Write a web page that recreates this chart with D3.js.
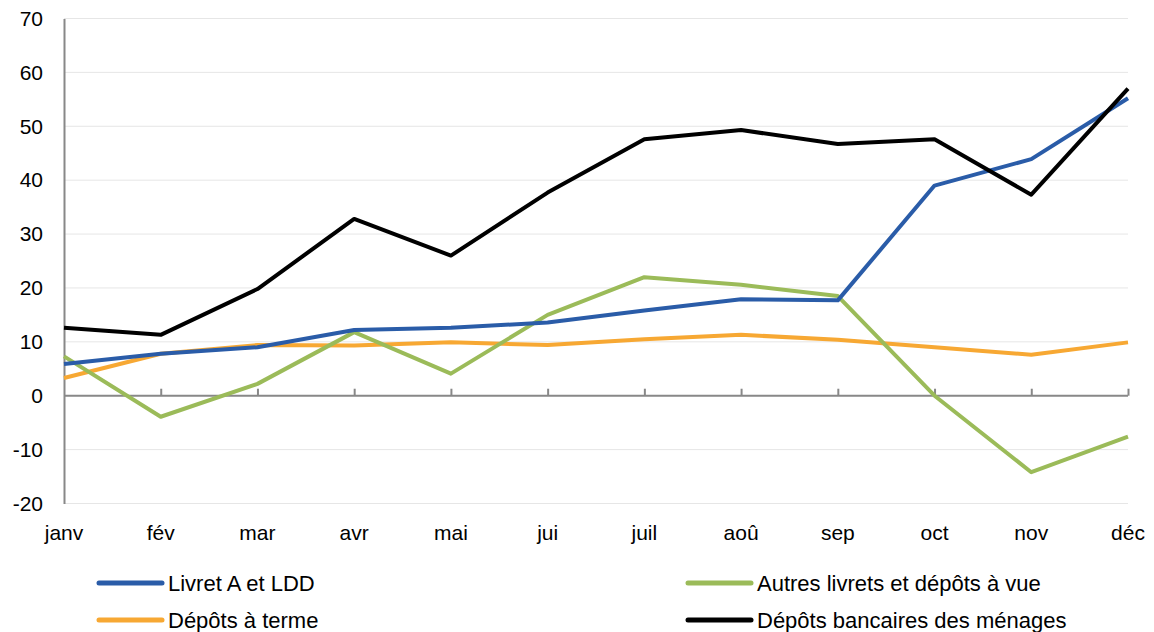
<!DOCTYPE html>
<html><head><meta charset="utf-8">
<script src="https://cdn.jsdelivr.net/npm/d3@7"></script>
<style>body{margin:0;background:#fff}svg{display:block;font-family:"Liberation Sans",Arial,sans-serif}</style>
</head><body><svg id="c" width="1154" height="632"></svg>
<script>
const months = ["janv","fév","mar","avr","mai","jui","juil","aoû","sep","oct","nov","déc"];
const livretA = [5.9,7.8,9.0,12.2,12.6,13.6,15.8,17.9,17.7,39.0,43.9,55.2];
const autresLivrets = [7.3,-3.9,2.2,11.8,4.1,15.0,22.0,20.6,18.5,0,-14.2,-7.6];
const depotsTerme = [3.3,7.8,9.4,9.3,9.9,9.4,10.5,11.3,10.4,9.0,7.6,9.9];
const depotsMenages = [12.6,11.3,19.8,32.8,26.0,37.7,47.6,49.3,46.7,47.6,37.3,57.0];
const yTicks = [-20,-10,0,10,20,30,40,50,60,70];
const seriesNames = ["Livret A et LDD","Autres livrets et dépôts à vue","Dépôts à terme","Dépôts bancaires des ménages"];
const colors = ["#2a5ca8","#9bbb59","#f7a833","#000000"];

const svg = d3.select("#c");
const x = d3.scalePoint().domain(months).range([64,1128]);
const y = d3.scaleLinear().domain([-20,70]).range([503.5,18.5]);

// gridlines
svg.append("g").selectAll("line").data(yTicks).join("line")
  .attr("x1",64).attr("x2",1128).attr("y1",d=>y(d)).attr("y2",d=>y(d))
  .attr("stroke","#e6e6e6").attr("stroke-width",1);

// y axis
const yAxis = d3.axisLeft(y).tickValues(yTicks).tickSize(0).tickPadding(21).tickFormat(d=>String(d));
const gy = svg.append("g").attr("transform","translate(64,0)").call(yAxis);
gy.select(".domain").attr("stroke","#888").attr("stroke-width",2);
gy.selectAll("text").attr("font-size",21).attr("fill","#000").attr("font-family","Liberation Sans, Arial, sans-serif");

// x axis at 0
const xAxis = d3.axisBottom(x).tickSize(-7).tickPadding(0).tickFormat("");
const gx = svg.append("g").attr("transform",`translate(0,${y(0)})`).call(xAxis);
gx.select(".domain").attr("stroke","#888").attr("stroke-width",2).attr("d",`M64,0H1128`);
gx.selectAll(".tick line").attr("stroke","#888").attr("stroke-width",2);
gx.selectAll(".tick").filter(d=>d==="janv").remove();

// x labels at bottom
svg.append("g").selectAll("text").data(months).join("text")
  .attr("x",d=>x(d)).attr("y",540).attr("text-anchor","middle")
  .attr("font-size",21).attr("fill","#000").text(d=>d);

// lines
const data = [livretA, autresLivrets, depotsTerme, depotsMenages];
const line = d3.line().x((d,i)=>x(months[i])).y(d=>y(d));
const drawOrder = [2,1,0,3];
drawOrder.forEach(k=>{
  svg.append("path").datum(data[k]).attr("d",line)
    .attr("fill","none").attr("stroke",colors[k]).attr("stroke-width",4)
    .attr("stroke-linejoin","round");
});

// legend
const legPos = [[99,583],[688,583],[99,620],[688,620]];
seriesNames.forEach((n,k)=>{
  const [lx,ly] = legPos[k];
  svg.append("line").attr("x1",lx).attr("x2",lx+63).attr("y1",ly).attr("y2",ly)
    .attr("stroke",colors[k]).attr("stroke-width",5).attr("stroke-linecap","round");
  svg.append("text").attr("x",lx+69).attr("y",ly+8).attr("font-size",22).attr("fill","#000").text(n);
});
</script></body></html>
